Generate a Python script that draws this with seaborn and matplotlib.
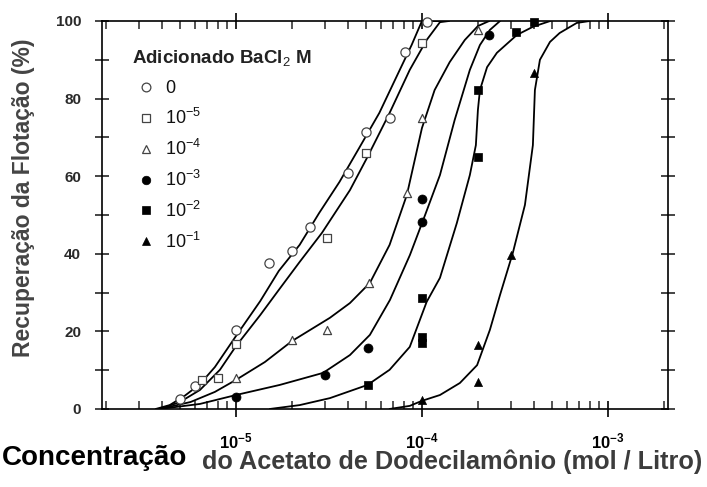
import numpy as np
import pandas as pd
import matplotlib
matplotlib.use("Agg")
import matplotlib.pyplot as plt
import seaborn as sns
from matplotlib.lines import Line2D
from matplotlib.ticker import FixedLocator, MultipleLocator, NullFormatter

# ---------------- data ----------------
series_labels = ["0", "$10^{-5}$", "$10^{-4}$", "$10^{-3}$", "$10^{-2}$", "$10^{-1}$"]
legend_title = "Adicionado BaCl$_2$ M"

# measured points (concentration mol/L, recovery %)
conc_0 = [5.0e-6, 6.0e-6, 1.0e-5, 1.5e-5, 2.0e-5, 2.5e-5, 4.0e-5, 5.0e-5, 6.7e-5, 8.1e-5, 1.06e-4]
rec_0 = [2.6, 5.9, 20.4, 37.6, 40.7, 46.9, 60.8, 71.4, 75.0, 92.0, 99.7]

conc_1 = [6.6e-6, 8.0e-6, 1.0e-5, 3.1e-5, 5.0e-5, 1.0e-4]
rec_1 = [7.5, 8.0, 16.8, 44.1, 66.0, 94.3]

conc_2 = [1.0e-5, 2.0e-5, 3.1e-5, 5.2e-5, 8.3e-5, 1.0e-4, 2.0e-4]
rec_2 = [8.0, 17.8, 20.4, 32.5, 55.7, 75.0, 97.7]

conc_3 = [1.0e-5, 3.0e-5, 5.1e-5, 1.0e-4, 1.0e-4, 2.3e-4]
rec_3 = [3.1, 8.8, 15.7, 48.2, 54.1, 96.4]

conc_4 = [5.1e-5, 1.0e-4, 1.0e-4, 1.0e-4, 2.0e-4, 2.0e-4, 3.2e-4, 4.0e-4]
rec_4 = [6.2, 17.0, 18.6, 28.6, 65.0, 82.2, 97.2, 99.7]

conc_5 = [1.0e-4, 2.0e-4, 2.0e-4, 3.0e-4, 4.0e-4]
rec_5 = [2.3, 7.0, 16.5, 39.7, 86.6]

# hand-drawn trend curves
curve_x_0 = [3.7e-6, 4.4e-6, 5.3e-6, 6.4e-6, 7.7e-6, 1.0e-5, 1.35e-5, 1.7e-5, 2.2e-5, 2.8e-5, 3.6e-5, 4.6e-5, 5.9e-5, 7.6e-5, 8.8e-5, 1.0e-4, 1.3e-4]
curve_y_0 = [0.0, 1.0, 3.4, 6.4, 10.8, 18.8, 27.8, 35.6, 42.3, 50.5, 58.5, 67.3, 76.3, 87.4, 93.8, 100.0, 100.0]

curve_x_1 = [3.9e-6, 5.0e-6, 6.4e-6, 8.2e-6, 1.0e-5, 1.35e-5, 1.7e-5, 2.2e-5, 2.9e-5, 4.1e-5, 5.1e-5, 6.7e-5, 8.6e-5, 1.06e-4, 1.25e-4, 1.4e-4]
curve_y_1 = [0.0, 1.8, 4.9, 10.1, 16.2, 24.2, 30.7, 37.9, 45.4, 56.4, 65.0, 76.3, 87.4, 95.1, 99.7, 100.0]

curve_x_2 = [3.9e-6, 5.7e-6, 7.7e-6, 1.0e-5, 1.43e-5, 2.0e-5, 3.2e-5, 4.1e-5, 5.25e-5, 6.7e-5, 8.3e-5, 1.0e-4, 1.17e-4, 1.41e-4, 1.7e-4, 2.0e-4, 2.3e-4]
curve_y_2 = [0.0, 1.8, 4.4, 7.5, 12.1, 17.5, 23.5, 27.3, 32.5, 42.3, 55.2, 72.4, 82.2, 89.4, 95.1, 98.7, 100.0]

curve_x_3 = [3.9e-6, 6.4e-6, 1.0e-5, 1.72e-5, 2.94e-5, 4.1e-5, 5.25e-5, 6.73e-5, 8.62e-5, 1.04e-4, 1.25e-4, 1.5e-4, 1.81e-4, 2.05e-4, 2.32e-4, 2.63e-4]
curve_y_3 = [0.0, 1.3, 3.6, 6.2, 9.3, 13.9, 19.1, 28.1, 39.7, 50.0, 60.3, 74.5, 87.4, 93.8, 97.7, 100.0]

curve_x_4 = [1.52e-5, 2.2e-5, 3.2e-5, 5.1e-5, 6.7e-5, 8.6e-5, 1.06e-4, 1.25e-4, 1.54e-4, 1.81e-4, 1.95e-4, 2.0e-4, 2.05e-4, 2.24e-4, 2.53e-4, 3.24e-4, 3.95e-4, 4.9e-4]
curve_y_4 = [0.0, 1.0, 2.8, 6.2, 10.1, 16.0, 27.6, 33.8, 47.9, 60.3, 68.0, 77.1, 82.2, 88.1, 91.8, 96.4, 98.5, 100.0]

curve_x_5 = [6.7e-5, 8.6e-5, 1.0e-4, 1.25e-4, 1.6e-4, 1.98e-4, 2.32e-4, 2.63e-4, 3.08e-4, 3.58e-4, 3.95e-4, 4.05e-4, 4.31e-4, 4.88e-4, 5.5e-4, 6.8e-4, 8.0e-4]
curve_y_5 = [0.0, 0.8, 2.1, 3.6, 6.7, 11.3, 20.4, 29.4, 40.2, 52.6, 68.0, 82.2, 90.0, 94.6, 96.9, 99.5, 100.0]

x_tick_values = [1e-5, 1e-4, 1e-3]
x_tick_labels = [r"$\mathbf{10^{-5}}$", r"$\mathbf{10^{-4}}$", r"$\mathbf{10^{-3}}$"]
y_tick_values = [0, 20, 40, 60, 80, 100]

# ---------------- styling ----------------
sns.set_theme(style="ticks")
plt.rcParams["font.family"] = ["Liberation Sans", "DejaVu Sans"]
plt.rcParams["mathtext.fontset"] = "custom"
plt.rcParams["mathtext.rm"] = "Liberation Sans"
plt.rcParams["mathtext.bf"] = "Liberation Sans:bold"

fig = plt.figure(figsize=(7.07, 4.87), dpi=100)
ax = fig.add_axes([0.1443, 0.1602, 0.8005, 0.7967])

points = [(conc_0, rec_0), (conc_1, rec_1), (conc_2, rec_2),
          (conc_3, rec_3), (conc_4, rec_4), (conc_5, rec_5)]
curves = [(curve_x_0, curve_y_0), (curve_x_1, curve_y_1), (curve_x_2, curve_y_2),
          (curve_x_3, curve_y_3), (curve_x_4, curve_y_4), (curve_x_5, curve_y_5)]

marker_styles = [
    dict(marker="o", facecolor="white", edgecolor="#444444", s=44, linewidth=0.9),
    dict(marker="s", facecolor="white", edgecolor="#444444", s=30, linewidth=0.9),
    dict(marker="^", facecolor="white", edgecolor="#444444", s=34, linewidth=0.9),
    dict(marker="o", facecolor="black", edgecolor="black", s=42, linewidth=0.5),
    dict(marker="s", facecolor="black", edgecolor="black", s=32, linewidth=0.5),
    dict(marker="^", facecolor="black", edgecolor="black", s=34, linewidth=0.5),
]

for (cx, cy) in curves:
    dfc = pd.DataFrame({"c": cx, "r": cy})
    sns.lineplot(data=dfc, x="c", y="r", ax=ax, color="black", linewidth=1.3,
                 sort=False, estimator=None, zorder=2)

for (px, py), st in zip(points, marker_styles):
    dfp = pd.DataFrame({"c": px, "r": py})
    sns.scatterplot(data=dfp, x="c", y="r", ax=ax, marker=st["marker"],
                    facecolor=st["facecolor"], edgecolor=st["edgecolor"],
                    s=st["s"], linewidth=st["linewidth"], zorder=3, clip_on=False)

ax.set_xscale("log")
ax.set_xlim(1.904e-6, 2.104e-3)
ax.set_ylim(0, 100)

# ticks
ax.xaxis.set_major_locator(FixedLocator(x_tick_values))
ax.set_xticklabels(x_tick_labels)
minor_x = [m * 10.0 ** e for e in range(-6, -2) for m in range(2, 10)]
ax.xaxis.set_minor_locator(FixedLocator(minor_x))
ax.xaxis.set_minor_formatter(NullFormatter())
ax.yaxis.set_major_locator(FixedLocator(y_tick_values))
ax.yaxis.set_minor_locator(MultipleLocator(10))

ax.tick_params(axis="x", which="major", direction="inout", length=12, width=1.2,
               top=True, bottom=True, labelsize=12, pad=10, colors="black")
ax.tick_params(axis="x", which="minor", direction="in", length=6, width=1.1,
               top=True, bottom=True)
ax.tick_params(axis="y", which="both", direction="inout", length=10, width=1.2,
               left=True, right=True, labelsize=11, pad=10)
for lab in ax.get_yticklabels():
    lab.set_fontweight("bold")
    lab.set_color("#2a2a2a")

for sp in ax.spines.values():
    sp.set_visible(True)
    sp.set_linewidth(1.2)
    sp.set_color("black")

ax.set_xlabel("")
ax.set_ylabel("Recuperação da Flotação (%)", fontsize=16.5, fontweight="bold", color="#444444")
ax.yaxis.set_label_coords(-0.118, 0.545)

# legend
handles = [Line2D([], [], linestyle="none", marker=st["marker"],
                  markerfacecolor=st["facecolor"], markeredgecolor=st["edgecolor"],
                  markersize=np.sqrt(st["s"]) * 0.95, markeredgewidth=st["linewidth"])
           for st in marker_styles]
leg = ax.legend(handles, series_labels, title=legend_title, loc="upper left",
                bbox_to_anchor=(0.053, 0.928), frameon=False, borderpad=0,
                borderaxespad=0, handlelength=1.6, handletextpad=0.25,
                labelspacing=0.6, fontsize=13,
                title_fontproperties={"size": 13.5, "weight": "bold"})
leg._legend_box.align = "left"
leg.get_title().set_color("#222222")
for t in leg.get_texts():
    t.set_color("#111111")

# x axis label in two parts
fig.text(0.003, 0.045, "Concentração", fontsize=20, fontweight="bold", color="black",
         ha="left", va="baseline")
fig.text(0.2857, 0.037, "do Acetato de Dodecilamônio (mol / Litro)", fontsize=18.2,
         fontweight="bold", color="#3c3c3c", ha="left", va="baseline")

fig.savefig("out.png", dpi=100)
